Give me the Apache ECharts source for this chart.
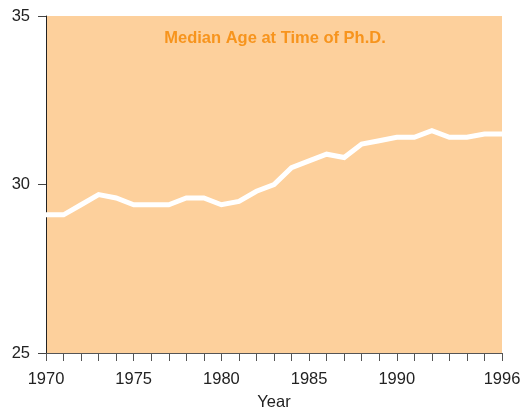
<!DOCTYPE html>
<html>
<head>
<meta charset="utf-8">
<script src="https://cdn.jsdelivr.net/npm/echarts@6/dist/echarts.min.js"></script>
<style>
  html, body { margin: 0; padding: 0; background: #fff; }
  #chart { width: 523px; height: 408px; }
</style>
</head>
<body>
<div id="chart"></div>
<script>
// median age at time of Ph.D., by year
const years = [1970, 1971, 1972, 1973, 1974, 1975, 1976, 1977, 1978, 1979, 1980, 1981, 1982,
  1983, 1984, 1985, 1986, 1987, 1988, 1989, 1990, 1991, 1992, 1993, 1994, 1995, 1996]
const medianAge = [29.1, 29.1, 29.4, 29.7, 29.6, 29.4, 29.4, 29.4, 29.6, 29.6, 29.4, 29.5, 29.8,
  30.0, 30.5, 30.7, 30.9, 30.8, 31.2, 31.3, 31.4, 31.4, 31.6, 31.4, 31.4, 31.5, 31.5]
const labeledYears = [1970, 1975, 1980, 1985, 1990, 1996]

const chart = echarts.init(document.getElementById('chart'))
const font = 'Liberation Sans, Arial, sans-serif'

chart.setOption({
  animation: false,
  title: {
    text: 'Median Age at Time of Ph.D.',
    left: 270,
    top: 25,
    textAlign: 'center',
    textStyle: {
      color: '#f7941d',
      fontSize: 16.5,
      fontWeight: 'bold',
      fontFamily: font,
    },
  },
  grid: {
    left: 46,
    right: 21,
    top: 16,
    bottom: 55,
    outerBoundsMode: 'none',
    containLabel: false,
    show: true,
    backgroundColor: '#fdd09c',
    borderWidth: 0,
  },
  xAxis: {
    type: 'value',
    min: 1970,
    max: 1996,
    interval: 1,
    name: 'Year',
    nameLocation: 'middle',
    nameGap: 41,
    nameTextStyle: { color: '#222', fontSize: 16.5, fontFamily: font },
    splitLine: { show: false },
    axisLine: { lineStyle: { color: '#555', width: 1 } },
    axisTick: { length: 8, lineStyle: { color: '#555' } },
    axisLabel: {
      margin: 18,
      color: '#222',
      fontSize: 16.5,
      fontFamily: font,
      formatter: (v) => (labeledYears.includes(v) ? String(v) : ''),
    },
  },
  yAxis: {
    type: 'value',
    min: 25,
    max: 35,
    interval: 5,
    splitLine: { show: false },
    axisLine: { show: true, lineStyle: { color: '#222', width: 1 } },
    axisTick: { show: true, length: 8, lineStyle: { color: '#444' } },
    axisLabel: {
      margin: 16,
      color: '#222',
      fontSize: 16.5,
      fontFamily: font,
    },
  },
  series: [
    {
      type: 'line',
      data: years.map((y, i) => [y, medianAge[i]]),
      showSymbol: false,
      lineStyle: { color: '#ffffff', width: 5, join: 'miter' },
      itemStyle: { color: '#ffffff' },
    },
  ],
})
</script>
</body>
</html>
